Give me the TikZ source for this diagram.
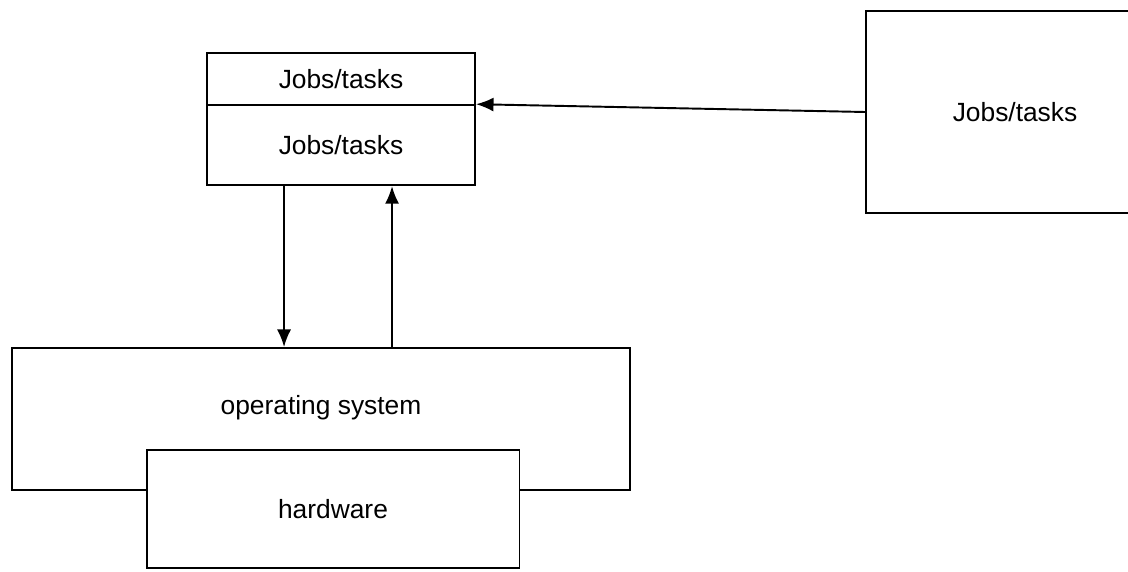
\documentclass[tikz,border=0pt]{standalone}
\usepackage{fontspec}
\setmainfont{Liberation Sans}
\usepackage{tikz}
\usetikzlibrary{positioning, arrows.meta}

\begin{document}
\begin{tikzpicture}[x=0.02cm, y=-0.02cm,
        box/.style={draw, line width=1.1pt, font=\fontsize{15}{18}\selectfont},
        arr/.style={line width=1.1pt, -{Latex[length=10pt, width=8pt]}}]
        \useasboundingbox (0, 0) rectangle (1128, 571);

        % Job queue
        \node (upper) [box, minimum width=5.36cm, minimum height=1.04cm] at (341, 79) {Jobs/tasks};
        \node (lower) [box, minimum width=5.36cm, minimum height=1.6cm, below=-1pt of upper] {Jobs/tasks};

        % Incoming jobs
        \node (incoming) [box, minimum width=5.96cm, minimum height=4.04cm] at (1015, 112) {Jobs/tasks};
        \draw[arr] (incoming.west) -- (lower.north east);

        % OS and hardware
        \node (os) [box, minimum width=12.36cm, minimum height=2.84cm] at (321, 419) {};
        \node (oslabel) [font=\fontsize{15}{18}\selectfont] at ([yshift=0.22cm]os.center) {operating system};
        \node (hw) [box, fill=white, minimum width=7.46cm, minimum height=2.36cm] at (333, 509) {hardware};

        % Dispatch and return
        \draw[arr] ([xshift=1.56cm]lower.south west) coordinate (down) -- (down |- os.north);
        \draw[arr] ([xshift=7.62cm]os.north west) coordinate (up) -- (up |- lower.south);
    \end{tikzpicture}
\end{document}
